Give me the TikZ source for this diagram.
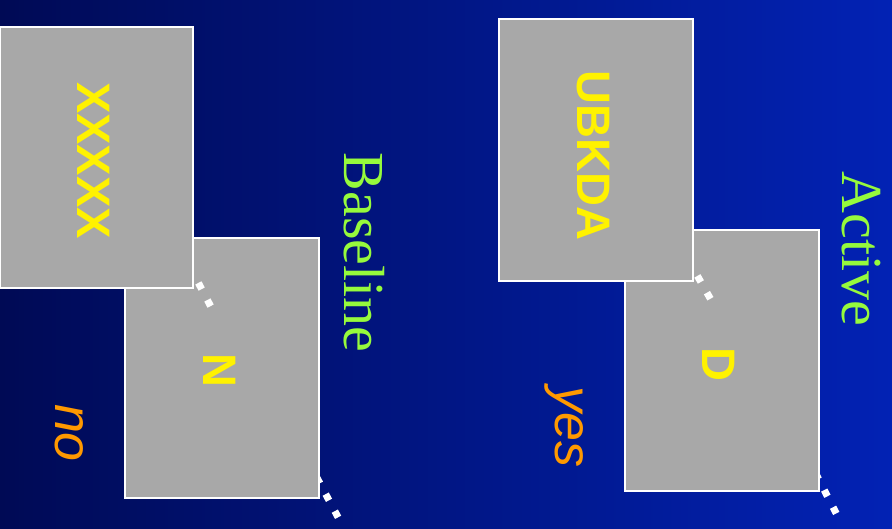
\documentclass[tikz,border=0pt]{standalone}
\usepackage{fontspec}
\setmainfont{Liberation Serif}
\newfontfamily\boxsans{Liberation Sans}[BoldFont={* Bold}]
\definecolor{bgleft}{RGB}{0,10,85}
\definecolor{bgright}{RGB}{2,34,180}
\definecolor{boxgray}{RGB}{168,168,168}
\definecolor{labgreen}{RGB}{150,250,60}
\definecolor{laborange}{RGB}{255,153,0}
\tikzset{
  panel/.style={draw=white, line width=2pt, fill=boxgray},
  boxlabel/.style={rotate=-90, anchor=base, text=yellow, inner sep=0pt,
    font=\boxsans\bfseries\fontsize{47}{47}\selectfont},
  sidelabel/.style={rotate=-90, anchor=base, text=labgreen, inner sep=0pt,
    font=\rmfamily\fontsize{58}{58}\selectfont},
  answer/.style={rotate=-90, anchor=base, text=laborange, inner sep=0pt,
    font=\boxsans\itshape\fontsize{52}{52}\selectfont},
  dotline/.style={draw=white, line width=7pt, dash pattern=on 7pt off 12.3pt}
}
\begin{document}
\begin{tikzpicture}[x=1pt,y=-1pt]
\useasboundingbox (0,0) rectangle (892,528);
\shade[left color=bgleft, right color=bgright] (0,0) rectangle (892,528);
% left group
\coordinate (d2s) at (316.6,477.1);
\coordinate (d2e) at (339.6,520.1);
\draw[dotline] (d2s) -- (d2e);
\draw[panel] (125,238) rectangle (319,498) node[pos=0.5] (boxN) {};
\coordinate (d1s) at (198.4,282.9);
\coordinate (d1e) at (210.6,306.1);
\draw[dotline] (d1s) -- (d1e);
\draw[panel] (0,27) rectangle (193,288) node[pos=0.5] (boxX) {};
% right group
\coordinate (d4s) at (815.4,472.9);
\coordinate (d4e) at (836.6,514.1);
\draw[dotline] (d4s) -- (d4e);
\draw[panel] (625,230) rectangle (819,491) node[pos=0.5] (boxD) {};
\coordinate (d3s) at (697.4,275.9);
\coordinate (d3e) at (710.6,299.1);
\draw[dotline] (d3s) -- (d3e);
\draw[panel] (499,19) rectangle (693,281) node[pos=0.5] (boxU) {};
% labels
\node[boxlabel] (tX) at (77,160.5) {XXXXX};
\node[boxlabel] (tN) at (203,370.5) {N};
\node[boxlabel] (tU) at (577,155.5) {UBKDA};
\node[boxlabel] (tD) at (702,364) {D};
\node[sidelabel] (tB) at (344,252.5) {Baseline};
\node[sidelabel] (tA) at (842,249) {Active};
\node[answer] (tno) at (55,433) {no};
\node[answer] (tyes) at (555,427) {yes};
\end{tikzpicture}
\end{document}
